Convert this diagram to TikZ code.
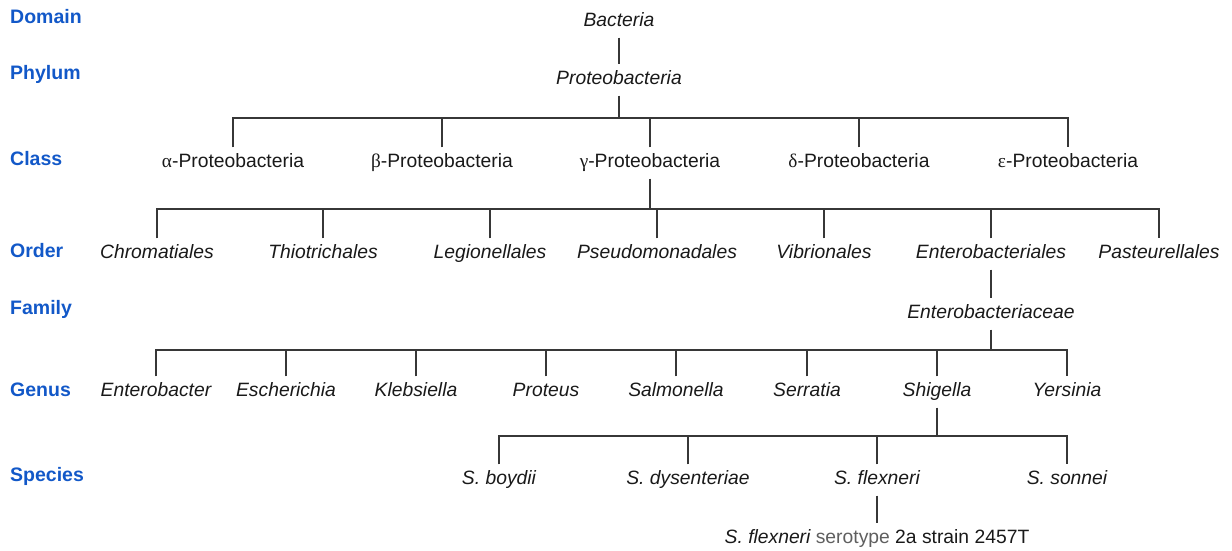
\documentclass[tikz,border=0pt]{standalone}
\usepackage{fontspec}
\setmainfont{Liberation Sans}
\newfontfamily\grk{Liberation Serif}
\definecolor{rankblue}{RGB}{18,88,200}
\definecolor{linegray}{RGB}{55,55,55}
\definecolor{seroGray}{RGB}{95,95,95}
\begin{document}
\begin{tikzpicture}[x=1pt,y=-1pt,
  rank/.style={anchor=west,font=\fontsize{19.5}{21}\selectfont\bfseries,text=rankblue,inner sep=0pt},
  taxon/.style={font=\fontsize{19.3}{21}\selectfont\itshape,text=black!90,inner xsep=0pt,inner ysep=7pt,text height=13pt,text depth=4pt},
  cls/.style={taxon,font=\fontsize{19.3}{21}\selectfont\upshape},
  link/.style={draw=linegray,line width=1.2pt}]
\useasboundingbox (0,0) rectangle (1232,550);
% rank labels
\node[rank] (rDomain) at (10,17) {Domain};
\node[rank] (rPhylum) at (10,74) {Phylum};
\node[rank] (rClass) at (10,159) {Class};
\node[rank] (rOrder) at (10,251) {Order};
\node[rank] (rFamily) at (10,309) {Family};
\node[rank] (rGenus) at (10,390) {Genus};
\node[rank] (rSpecies) at (10,476) {Species};
% domain / phylum
\node[taxon] (bact) at (619,22) {Bacteria};
\node[taxon] (prot) at (619,80) {Proteobacteria};
% classes
\node[cls] (ca) at (233,163) {{\grk α}-Proteobacteria};
\node[cls] (cb) at (442,163) {{\grk β}-Proteobacteria};
\node[cls] (cg) at (650,163) {{\grk γ}-Proteobacteria};
\node[cls] (cd) at (859,163) {{\grk δ}-Proteobacteria};
\node[cls] (ce) at (1068,163) {{\grk ε}-Proteobacteria};
% orders
\node[taxon] (o1) at (157,254) {Chromatiales};
\node[taxon] (o2) at (323,254) {Thiotrichales};
\node[taxon] (o3) at (490,254) {Legionellales};
\node[taxon] (o4) at (657,254) {Pseudomonadales};
\node[taxon] (o5) at (824,254) {Vibrionales};
\node[taxon] (o6) at (991,254) {Enterobacteriales};
\node[taxon] (o7) at (1159,254) {Pasteurellales};
% family
\node[taxon] (fam) at (991,314) {Enterobacteriaceae};
% genera
\node[taxon] (g1) at (156,392) {Enterobacter};
\node[taxon] (g2) at (286,392) {Escherichia};
\node[taxon] (g3) at (416,392) {Klebsiella};
\node[taxon] (g4) at (546,392) {Proteus};
\node[taxon] (g5) at (676,392) {Salmonella};
\node[taxon] (g6) at (807,392) {Serratia};
\node[taxon] (g7) at (937,392) {Shigella};
\node[taxon] (g8) at (1067,392) {Yersinia};
% species
\node[taxon] (s1) at (499,480) {S. boydii};
\node[taxon] (s2) at (688,480) {S. dysenteriae};
\node[taxon] (s3) at (877,480) {S. flexneri};
\node[taxon] (s4) at (1067,480) {S. sonnei};
% strain
\node[cls] (strain) at (877,539) {\itshape S. flexneri\upshape\ \textcolor{seroGray}{serotype} 2a strain 2457T};
% bar levels
\coordinate (bC) at (0,118);
\coordinate (bO) at (0,209);
\coordinate (bG) at (0,350);
\coordinate (bS) at (0,436);
% connectors
\draw[link] (bact.south) -- (prot.north);
\draw[link] (prot.south) -- (prot.south |- bC);
\draw[link] (ca.north) -- (ca.north |- bC) -| (ce.north);
\foreach \n in {cb,cg,cd} \draw[link] (\n.north) -- (\n.north |- bC);
\draw[link] (cg.south) -- (cg.south |- bO);
\draw[link] (o1.north) -- (o1.north |- bO) -| (o7.north);
\foreach \n in {o2,o3,o4,o5,o6} \draw[link] (\n.north) -- (\n.north |- bO);
\draw[link] (o6.south) -- (fam.north);
\draw[link] (fam.south) -- (fam.south |- bG);
\draw[link] (g1.north) -- (g1.north |- bG) -| (g8.north);
\foreach \n in {g2,g3,g4,g5,g6,g7} \draw[link] (\n.north) -- (\n.north |- bG);
\draw[link] (g7.south) -- (g7.south |- bS);
\draw[link] (s1.north) -- (s1.north |- bS) -| (s4.north);
\foreach \n in {s2,s3} \draw[link] (\n.north) -- (\n.north |- bS);
\draw[link] (s3.south) -- (strain.north);
\end{tikzpicture}
\end{document}
